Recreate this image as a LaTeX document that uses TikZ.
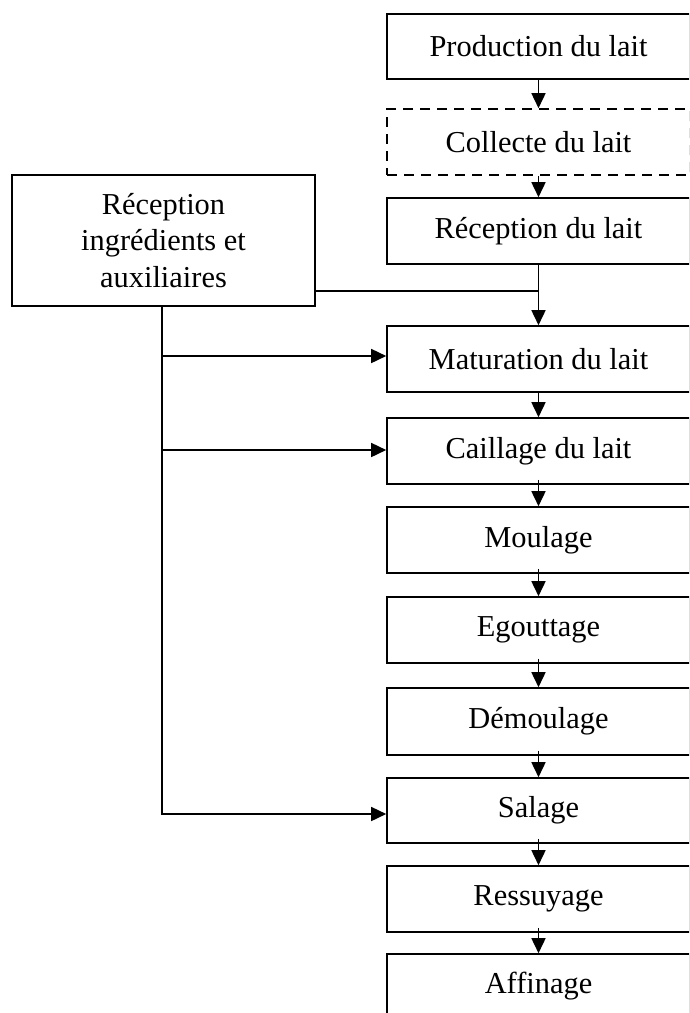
\documentclass[tikz,border=0pt]{standalone}
\usepackage{fontspec}
\setmainfont{Liberation Serif}
\usetikzlibrary{arrows.meta}
\begin{document}
\begin{tikzpicture}[x=1pt,y=-1pt,
  stepbox/.style={draw,line width=1.6pt,minimum width=303pt,minimum height=65pt,inner sep=0pt,
    font=\fontsize{30.4}{36.5}\selectfont,align=center},
  conn/.style={line width=1.6pt},
  arr/.style={line width=1.6pt,-{Triangle[length=15pt,width=14pt]}}]
\clip (0,0) rectangle (689,1013);
\node[stepbox] (prod) at (538.5,46.5) {Production du lait};
\node[stepbox,dash pattern=on 10pt off 7pt,minimum height=66pt] (coll) at (538.5,142) {Collecte du lait};
\node[stepbox,minimum height=66pt] (rec) at (538.5,231) {Réception du lait};
\node[stepbox,minimum height=66pt] (mat) at (538.5,359) {Maturation du lait};
\node[stepbox,minimum height=66pt] (cail) at (538.5,451) {Caillage du lait};
\node[stepbox,minimum height=66pt] (moul) at (538.5,540) {Moulage};
\node[stepbox,minimum height=66pt] (egout) at (538.5,630) {Egouttage};
\node[stepbox,minimum height=67pt] (demoul) at (538.5,721.5) {Démoulage};
\node[stepbox] (sal) at (538.5,810.5) {Salage};
\node[stepbox,minimum height=66pt] (ress) at (538.5,899) {Ressuyage};
\node[stepbox] (aff) at (538.5,986.5) {Affinage};
\node[stepbox,minimum height=131pt] (ing) at (163.5,240.5) {Réception\\ingrédients et\\auxiliaires};
% main chain
\draw[arr] (prod.south) -- (coll.north);
\draw[arr] (coll.south) -- (rec.north);
\draw[arr] (rec.south) -- (mat.north);
\draw[arr] (mat.south) -- (cail.north);
\draw[arr] ([yshift=5pt]cail.south) -- (moul.north);
\draw[arr] ([yshift=5pt]moul.south) -- (egout.north);
\draw[arr] ([yshift=5pt]egout.south) -- (demoul.north);
\draw[arr] ([yshift=5pt]demoul.south) -- (sal.north);
\draw[arr] ([yshift=5pt]sal.south) -- (ress.north);
\draw[arr] ([yshift=5pt]ress.south) -- (aff.north);
% ingredients
\coordinate (j) at ([yshift=-50.5pt]ing.east);
\draw[conn] (j) -- (j -| rec.south);
\draw[arr] ([xshift=-1.5pt]ing.south) |- ([yshift=-3.5pt]sal.west);
\coordinate (m1) at ([xshift=-1.5pt]ing.south |- mat.west);
\coordinate (c1) at ([xshift=-1.5pt]ing.south |- cail.west);
\draw[arr] ([yshift=3pt]m1) -- ([yshift=3pt]mat.west);
\draw[arr] ([yshift=1pt]c1) -- ([yshift=1pt]cail.west);
\end{tikzpicture}
\end{document}
